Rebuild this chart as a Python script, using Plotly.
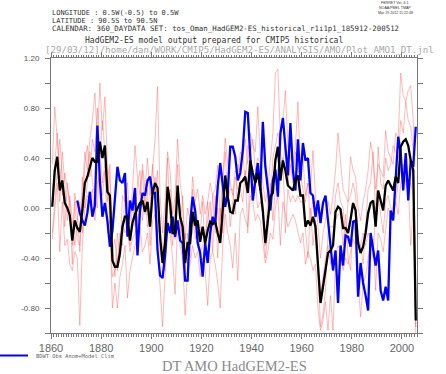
import plotly.graph_objects as go

years = list(range(1860, 2006))
obs_years = list(range(1870, 2006))

ens_mean = [
    0.01, 0.30, 0.41, 0.14, 0.22, 0.04, 0.00, -0.06, -0.26, -0.10,
    -0.16, -0.19, -0.02, 0.20, 0.25, 0.33, 0.40, 0.37, 0.37, 0.53,
    0.40, 0.50, 0.13, 0.10, -0.42, -0.47, -0.47, -0.36, -0.15, -0.07,
    -0.07, -0.26, -0.12, -0.05, 0.00, 0.04, 0.06, -0.03, 0.05, -0.15,
    0.12, 0.20, 0.16, -0.23, -0.44, -0.28, 0.17, 0.04, -0.20, -0.20,
    0.18, -0.07, -0.15, -0.44, -0.28, -0.28, -0.03, -0.14, -0.10, -0.27,
    -0.15, -0.28, -0.18, -0.11, -0.13, -0.11, -0.20, -0.28, -0.02, 0.26,
    0.09, -0.03, -0.04, 0.06, 0.06, 0.20, 0.22, 0.25, 0.12, 0.38,
    0.28, 0.20, 0.28, 0.16, -0.02, -0.28, -0.10, 0.09, 0.12, 0.38,
    0.49, 0.22, 0.38, 0.30, 0.18, 0.16, 0.14, 0.22, 0.26, 0.10,
    0.10, -0.15, -0.10, -0.14, -0.07, -0.15, -0.50, -0.76, -0.63, -0.50,
    -0.36, -0.34, -0.30, -0.03, 0.01, -0.01, -0.16, -0.16, -0.20, -0.09,
    0.04, -0.02, -0.28, -0.36, -0.31, -0.20, -0.04, 0.04, 0.06, -0.15,
    0.14, 0.06, -0.02, 0.18, 0.22, 0.18, 0.14, 0.25, 0.20, 0.49,
    0.53, 0.55, 0.50, 0.38, 0.30, -0.90,
]

obs = [
    0.06, -0.04, -0.10, -0.14, -0.04, 0.13, -0.07, 0.02, 0.66, 0.22,
    -0.07, 0.04, -0.10, -0.31, -0.18, 0.10, 0.33, 0.22, 0.20, 0.28,
    -0.23, 0.06, -0.02, 0.16, -0.38, -0.02, 0.12, 0.10, 0.22, 0.25,
    0.12, 0.12, -0.34, -0.54, -0.56, -0.38, -0.12, -0.20, -0.07, -0.23,
    -0.10, -0.26, -0.28, -0.58, -0.58, -0.12, 0.09, -0.02, -0.28, -0.36,
    -0.55, -0.28, -0.44, -0.20, -0.07, -0.13, 0.17, 0.36, 0.17, 0.01,
    0.12, 0.49, 0.49, 0.41, 0.22, 0.28, 0.46, 0.77, 0.76, 0.38,
    0.06, 0.22, 0.36, 0.14, 0.69, 0.33, 0.14, -0.02, 0.22, 0.31,
    0.09, 0.60, 0.72, 0.46, 0.26, 0.68, 0.30, 0.14, 0.55, 0.22,
    0.52, 0.38, 0.40, 0.12, 0.10, -0.07, 0.06, -0.12, 0.04, 0.10,
    -0.10, -0.34, -0.50, -0.34, -0.76, -0.30, -0.46, -0.22, -0.23, -0.31,
    -0.11, -0.10, -0.71, -0.44, -0.60, -0.70, -0.82, -0.20, -0.34, -0.46,
    -0.34, -0.66, -0.74, -0.63, -0.74, -0.02, -0.10, 0.22, 0.57, 0.44,
    0.14, 0.44, 0.06, 0.38, 0.33, 0.65,
]

member_1 = [
    0.35, 0.81, 0.55, 0.30, 0.10, 0.28, 0.15, 0.05, -0.30, 0.12,
    -0.05, -0.35, 0.10, 0.45, 0.30, 0.55, 0.70, 0.92, 0.55, 1.00,
    0.62, 0.89, 0.35, 0.20, -0.30, -0.55, -0.20, -0.40, 0.10, 0.05,
    0.20, -0.10, 0.15, 0.50, 0.25, 0.10, 0.35, 0.15, 0.40, 0.10,
    0.30, 0.55, 0.97, 0.10, -0.20, 0.05, 0.45, 0.30, -0.05, 0.10,
    0.55, 0.20, 0.05, -0.25, 0.00, -0.10, 0.25, 0.05, 0.15, -0.05,
    0.10, -0.05, 0.05, 0.20, 0.10, 0.15, 0.34, -0.10, 0.25, 0.56,
    0.35, 0.20, 0.10, 0.30, 0.25, 0.45, 0.40, 0.55, 0.35, 0.60,
    0.50, 0.45, 0.81, 0.40, 0.20, 0.05, 0.15, 0.40, 0.60, 1.08,
    1.11, 0.55, 0.70, 0.94, 0.50, 0.40, 0.35, 0.50, 0.85, 0.30,
    0.40, 0.10, 0.20, 0.15, 0.46, 0.10, -0.15, -0.40, -0.20, -0.10,
    0.05, -0.05, 0.10, 0.30, 0.60, 0.35, 0.15, 0.10, 0.05, 0.41,
    0.30, 0.25, 0.00, -0.10, 0.05, 0.15, 0.30, 0.53, 0.40, 0.15,
    0.35, 0.30, 0.25, 0.62, 0.45, 0.40, 0.35, 0.60, 0.55, 1.08,
    0.90, 0.85, 0.94, 0.98, 0.70, -0.70,
]

member_2 = [
    -0.25, 0.00, 0.20, -0.35, 0.05, -0.30, -0.25, -0.45, -0.50, -0.35,
    -0.40, -0.94, -0.30, 0.00, 0.10, 0.05, 0.15, -0.10, 0.20, 0.25,
    0.10, 0.30, -0.20, -0.10, -0.80, -0.60, -0.80, -0.55, -0.45, -0.30,
    -0.72, -0.50, -0.40, -0.30, -0.25, -0.15, -0.35, -0.30, -0.20, -0.45,
    -0.10, -0.05, -0.30, -0.60, -0.95, -0.55, -0.10, -0.20, -0.40, -0.69,
    -0.10, -0.30, -0.40, -0.86, -0.50, -0.45, -0.30, -0.40, -0.35, -0.55,
    -0.40, -0.50, -0.78, -0.40, -0.35, -0.45, -0.60, -0.80, -0.30, -0.05,
    -0.20, -0.30, -0.48, -0.20, -0.58, -0.05, 0.00, -0.10, -0.15, 0.10,
    0.05, -0.10, -0.05, -0.10, -0.30, -0.44, -0.35, -0.20, -0.25, 0.00,
    0.10, -0.30, 0.05, -0.05, -0.15, -0.10, -0.05, -0.10, -0.20, -0.28,
    -0.20, -0.45, -0.35, -0.40, -0.50, -0.45, -0.80, -0.98, -0.90, -0.75,
    -0.98, -0.70, -0.98, -0.40, -0.30, -0.35, -0.50, -0.40, -0.45, -0.35,
    -0.25, -0.30, -0.60, -0.87, -0.60, -0.55, -0.40, -0.30, -0.25, -0.66,
    -0.20, -0.25, -0.35, -0.15, 0.00, -0.05, -0.10, 0.05, -0.05, 0.20,
    0.25, 0.30, 0.20, -0.30, 0.00, -1.00,
]

member_3 = [
    0.10, 0.35, 0.60, 0.05, 0.45, 0.20, -0.10, 0.10, -0.10, -0.30,
    -0.10, 0.05, -0.20, 0.35, 0.50, 0.25, 0.55, 0.45, 0.80, 0.40,
    0.70, 0.45, 0.05, 0.35, -0.35, -0.25, -0.50, -0.20, -0.30, 0.15,
    -0.10, -0.30, 0.05, -0.15, 0.20, 0.30, -0.10, 0.10, -0.15, 0.00,
    0.35, 0.10, 0.30, -0.35, -0.45, -0.10, 0.40, -0.10, -0.30, 0.05,
    0.35, -0.20, 0.10, -0.50, -0.20, -0.40, 0.15, -0.25, -0.15, -0.20,
    0.05, -0.35, 0.05, -0.25, 0.10, -0.20, 0.00, -0.25, 0.20, 0.45,
    0.05, 0.15, 0.15, -0.05, 0.35, 0.30, 0.45, 0.20, 0.50, 0.45,
    0.55, 0.30, 0.40, 0.35, 0.05, -0.30, 0.10, 0.05, 0.40, 0.50,
    0.60, 0.45, 0.35, 0.55, 0.20, 0.35, 0.20, 0.45, 0.30, 0.25,
    0.15, 0.05, 0.20, -0.15, 0.10, -0.10, -0.45, -0.70, -0.55, -0.40,
    -0.30, -0.45, -0.20, 0.10, 0.20, 0.05, 0.00, -0.25, 0.05, 0.10,
    0.20, 0.10, -0.30, -0.30, -0.45, -0.10, 0.15, 0.20, 0.45, -0.10,
    0.49, 0.20, 0.15, 0.40, 0.30, 0.35, 0.50, 0.45, 0.40, 0.70,
    0.60, 0.85, 0.70, 0.65, 0.45, -0.95,
]

member_4 = [
    -0.20, 0.05, 0.30, 0.55, 0.25, -0.15, 0.20, 0.00, -0.45, 0.05,
    -0.25, -0.30, 0.25, 0.00, 0.20, 0.45, 0.20, 0.10, 0.00, 0.45,
    0.20, 0.35, 0.30, -0.15, -0.55, -0.50, -0.40, -0.30, -0.10, -0.20,
    -0.15, -0.35, -0.25, -0.20, -0.15, 0.05, 0.30, -0.05, 0.15, -0.30,
    0.05, 0.25, -0.20, -0.15, -0.30, -0.50, 0.00, 0.15, -0.10, -0.25,
    0.10, 0.00, -0.30, -0.20, -0.45, -0.25, -0.20, 0.00, -0.10, -0.35,
    -0.30, -0.20, -0.10, 0.05, -0.35, 0.10, -0.40, 0.00, -0.20, 0.10,
    0.15, -0.15, 0.05, 0.25, 0.15, 0.15, 0.05, 0.30, -0.20, 0.35,
    0.10, 0.20, 0.00, 0.05, -0.05, -0.40, -0.20, 0.20, -0.10, 0.15,
    0.20, 0.25, 0.40, -0.20, 0.15, 0.05, 0.10, 0.05, 0.10, 0.05,
    0.05, -0.20, -0.40, 0.00, -0.30, -0.10, -0.55, -0.95, -0.85, -0.65,
    -0.20, -0.15, -0.15, -0.10, -0.05, -0.05, -0.30, -0.05, -0.40, -0.50,
    -0.10, -0.10, -0.25, -0.30, -0.20, -0.30, -0.20, -0.25, -0.40, 0.00,
    0.10, -0.05, -0.20, 0.05, 0.10, 0.00, -0.05, 0.05, 0.20, 0.30,
    0.35, 0.20, 0.15, 0.20, 0.10, -0.95,
]

members = [member_1, member_2, member_3, member_4]

x_tick_vals = [1860, 1880, 1900, 1920, 1940, 1960, 1980, 2000]
y_tick_vals = [-0.8, -0.4, 0.0, 0.4, 0.8, 1.2]
y_tick_text = ["-0.80", "-0.40", "0.00", "0.40", "0.80", "1.20"]

xm = [y + 0.5 for y in years]
xo = [y + 0.5 for y in obs_years]

fig = go.Figure()
for m in members:
    fig.add_trace(go.Scatter(x=xm, y=m, mode="lines",
                             line=dict(color="rgba(255,90,90,0.42)", width=1),
                             showlegend=False, hoverinfo="skip"))
fig.add_trace(go.Scatter(x=xo, y=obs, mode="lines",
                         line=dict(color="#0000ff", width=2.3), showlegend=False))
fig.add_trace(go.Scatter(x=xm, y=ens_mean, mode="lines",
                         line=dict(color="#000000", width=2.3), showlegend=False))

axis_col = "#777777"
fig.update_layout(
    width=446, height=374,
    margin=dict(l=51, r=29, t=58, b=41),
    paper_bgcolor="white", plot_bgcolor="white",
    font=dict(family="Liberation Sans, Arial, sans-serif", color="#444"),
    xaxis=dict(range=[1860, 2006], tickvals=x_tick_vals,
               ticks="outside", ticklen=5, tickcolor=axis_col, tickwidth=1,
               minor=dict(dtick=1, tick0=1860, ticks="outside", ticklen=2.5, tickcolor=axis_col),
               showline=True, linecolor=axis_col, linewidth=1, mirror="allticks",
               showgrid=False, zeroline=False,
               tickfont=dict(size=11, color="#666")),
    yaxis=dict(range=[-1.0, 1.2], tickvals=y_tick_vals, ticktext=y_tick_text,
               ticks="outside", ticklen=5, tickcolor=axis_col,
               minor=dict(dtick=0.2, tick0=0, ticks="outside", ticklen=5, tickcolor=axis_col),
               showline=True, linecolor=axis_col, linewidth=1, mirror="allticks",
               showgrid=False, zeroline=False, ticklabelstandoff=4,
               tickfont=dict(size=8, color="#555")),
)


def px_x(px):
    return (px - 51) / 366.0


def px_y(py):
    return (333 - py) / 275.0


mono = "DejaVu Sans Mono, Liberation Mono, monospace"
hdr = dict(xref="paper", yref="paper", showarrow=False, xanchor="left", yanchor="middle",
           font=dict(size=7.0, color="#333", family=mono))

fig.add_annotation(x=px_x(50), y=px_y(13.5), text="LONGITUDE : 0.5W(-0.5) to 0.5W", **hdr)
fig.add_annotation(x=px_x(50), y=px_y(21), text="LATITUDE : 90.5S to 90.5N", **hdr)
fig.add_annotation(x=px_x(50), y=px_y(28.5),
                   text="CALENDAR: 360_DAYDATA SET: tos_Oman_HadGEM2-ES_historical_r1i1p1_185912-200512",
                   xref="paper", yref="paper", showarrow=False, xanchor="left", yanchor="middle",
                   font=dict(size=7.4, color="#333", family=mono))
fig.add_annotation(x=px_x(214), y=px_y(40), text="HadGEM2-ES model output prepared for CMIP5 historical",
                   xref="paper", yref="paper", showarrow=False, xanchor="center", yanchor="middle",
                   font=dict(size=8.1, color="#333", family=mono))
fig.add_annotation(x=px_x(43), y=px_y(50.5),
                   text="[29/03/12]/home/dan/WORK/CMIP5/HadGEM2-ES/ANALYSIS/AMO/Plot_AMO1_DT.jnl",
                   xref="paper", yref="paper", showarrow=False, xanchor="left", yanchor="middle",
                   font=dict(size=9.1, color="#a8a8a8", family=mono))
for txt, py in [("FERRET Ver. 6.1", 3), ("NOAA/PMEL TMAP", 8), ("Mar 29 2012 11:22:48", 13)]:
    fig.add_annotation(x=px_x(395), y=px_y(py), text=txt, xref="paper", yref="paper",
                       showarrow=False, xanchor="center", yanchor="middle",
                       font=dict(size=3.6, color="#333"))

# legend sample
fig.add_shape(type="line", xref="paper", yref="paper", x0=px_x(0), x1=px_x(28),
              y0=px_y(355.5), y1=px_y(355.5), line=dict(color="#0000ff", width=2))
fig.add_annotation(x=px_x(34), y=px_y(356), text="BDWT Obs Anom+Model Clim", xref="paper", yref="paper",
                   showarrow=False, xanchor="left", yanchor="middle",
                   font=dict(size=5.4, color="#666", family=mono))
fig.add_annotation(x=px_x(234), y=px_y(366), text="DT AMO HadGEM2-ES", xref="paper", yref="paper",
                   showarrow=False, xanchor="center", yanchor="middle",
                   font=dict(size=14.5, color="#8a8a8a", family="Liberation Serif, DejaVu Serif, serif"))

fig.write_html("out.html", config={"displayModeBar": False},
               post_script="document.body.style.margin='0px';document.body.style.overflow='hidden';")
